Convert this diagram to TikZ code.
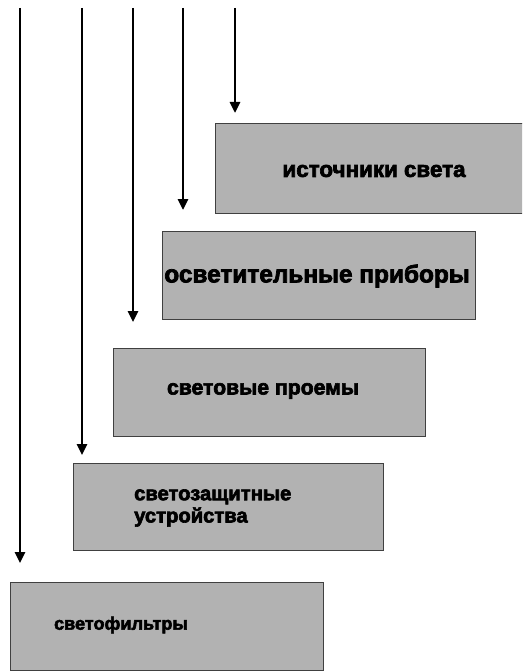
\documentclass[tikz,border=0pt]{standalone}
\usepackage{fontspec}
\setmainfont{Liberation Sans}[BoldFeatures={FakeBold=3}]
\usetikzlibrary{arrows.meta}
\tikzset{
  stage/.style={draw=black!75, line width=0.9pt, fill=black!30,
    anchor=north west, inner sep=0pt},
  flow/.style={line width=2.6pt, -{Triangle[width=10pt,length=11pt]}},
  caption/.style={text=black, inner sep=0pt},
}
\newcommand{\capsize}[1]{\fontsize{#1}{1.1\dimexpr#1pt\relax}\selectfont\bfseries}
\begin{document}
\begin{tikzpicture}[x=1pt,y=-1pt]
\useasboundingbox (0,0) rectangle (522,671);
\clip (0,0) rectangle (522,671);

% stepped boxes, top-right to bottom-left
\node[stage, minimum width=320pt, minimum height=90pt] (b1) at (215,123) {};
\node[stage, minimum width=313pt, minimum height=88pt] (b2) at (162,231) {};
\node[stage, minimum width=312pt, minimum height=88pt] (b3) at (113,348) {};
\node[stage, minimum width=310pt, minimum height=87pt] (b4) at (73,463) {};
\node[stage, minimum width=313pt, minimum height=88pt] (b5) at (10,582) {};

% captions
\node[caption, font=\capsize{22.4}] (c1) at (374,171) {источники света};
\node[caption, font=\capsize{24.4}] (c2) at (317,276) {осветительные приборы};
\node[caption, font=\capsize{21.2}] (c3) at (263,391) {световые проемы};
\node[caption, font=\capsize{20.2}, align=left, anchor=west] (c4) at (134,508) {светозащитные\\устройства};
\node[caption, font=\capsize{18.1}] (c5) at (121,625) {светофильтры};

% arrow end points just above each box
\coordinate (e1) at ([yshift=19pt]b5.north);
\coordinate (e2) at ([yshift=8pt]b4.north);
\coordinate (e3) at ([yshift=26pt]b3.north);
\coordinate (e4) at ([yshift=21pt]b2.north);
\coordinate (e5) at ([yshift=10pt]b1.north);

% vertical arrows from the top edge
\coordinate (s1) at (20,8);
\coordinate (s2) at (82,8);
\coordinate (s3) at (133,8);
\coordinate (s4) at (183,8);
\coordinate (s5) at (235,8);
\draw[flow] (s1) -- (s1 |- e1);
\draw[flow] (s2) -- (s2 |- e2);
\draw[flow] (s3) -- (s3 |- e3);
\draw[flow] (s4) -- (s4 |- e4);
\draw[flow] (s5) -- (s5 |- e5);
\end{tikzpicture}
\end{document}
